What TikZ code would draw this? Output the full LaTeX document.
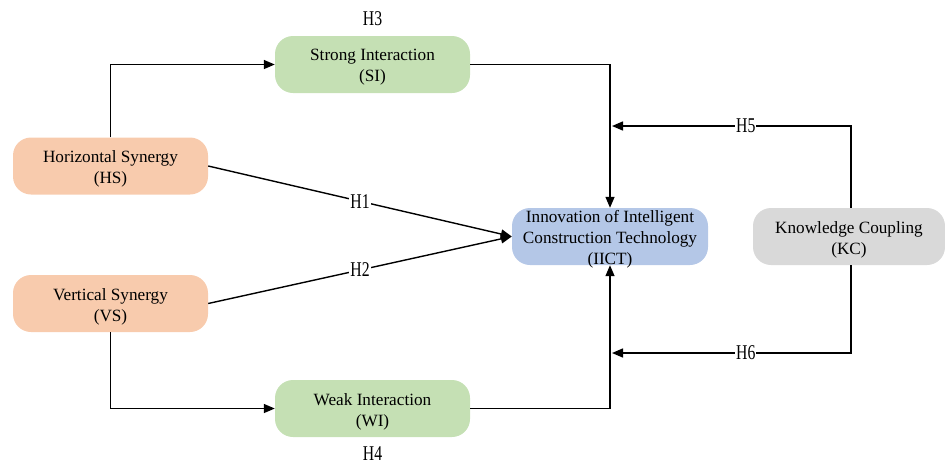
\documentclass[tikz,border=0pt]{standalone}
\usepackage{fontspec}
\setmainfont{Liberation Serif}
\usetikzlibrary{arrows.meta}
\definecolor{orng}{HTML}{F8CBAD}
\definecolor{grn}{HTML}{C5E0B4}
\definecolor{blu}{HTML}{B4C7E7}
\definecolor{gry}{HTML}{D9D9D9}
\tikzset{
  box/.style={rounded corners=18pt, minimum width=195pt, minimum height=57pt, inner sep=0pt},
  txt/.style={align=center, inner sep=0pt, font=\fontsize{17.2}{21}\selectfont},
  arr/.style={line width=1.4pt, -{Triangle[length=11pt,width=9pt]}},
  lbl/.style={fill=white, inner sep=1pt, font=\fontsize{21}{21}\selectfont},
}
\newcommand{\hl}[1]{\scalebox{0.75}[1]{#1}}
\begin{document}
\begin{tikzpicture}[x=1pt,y=-1pt]
\useasboundingbox (0,0) rectangle (945,464);
\node[box, fill=orng] (HS) at (110.5,166) {};
\node[txt] (HSt) at ([yshift=-3pt]HS.center) {Horizontal Synergy\\(HS)};
\node[box, fill=orng] (VS) at (110.5,303.5) {};
\node[txt] (VSt) at ([yshift=-3pt]VS.center) {Vertical Synergy\\(VS)};
\node[box, fill=grn] (SI) at (372.5,64.5) {};
\node[txt] (SIt) at ([yshift=-3pt]SI.center) {Strong Interaction\\(SI)};
\node[box, fill=grn] (WI) at (372.5,408.5) {};
\node[txt] (WIt) at ([yshift=-3pt]WI.center) {Weak Interaction\\(WI)};
\node[box, fill=blu, minimum width=196pt] (IICT) at (610,236.5) {};
\node[txt] (IICTt) at ([yshift=-2.5pt]IICT.center) {Innovation of Intelligent\\Construction Technology\\(IICT)};
\node[box, fill=gry, minimum width=192pt] (KC) at (849,236.5) {};
\node[txt] (KCt) at ([yshift=-3pt]KC.center) {Knowledge Coupling\\(KC)};
\node[lbl] (H3) at (372.5,19) {\hl{H3}};
\node[lbl] (H4) at (372.5,454) {\hl{H4}};
\coordinate (c5) at (612,126);
\coordinate (c6) at (612,353);
\draw[arr] (HS.north) |- (SI.west);
\draw[arr] (VS.south) |- (WI.west);
\draw[arr] (SI.east) -| (IICT.north);
\draw[arr] (WI.east) -| (IICT.south);
\draw[arr] (HS.east) -- node[lbl, pos=0.5] {\hl{H1}} (IICT.west);
\draw[arr] (VS.east) -- node[lbl, pos=0.5] {\hl{H2}} (IICT.west);
\draw[arr] (KC.north -| 851,0) |- node[lbl, pos=0.72] {\hl{H5}} (c5);
\draw[arr] (KC.south -| 851,0) |- node[lbl, pos=0.72] {\hl{H6}} (c6);
\end{tikzpicture}
\end{document}
